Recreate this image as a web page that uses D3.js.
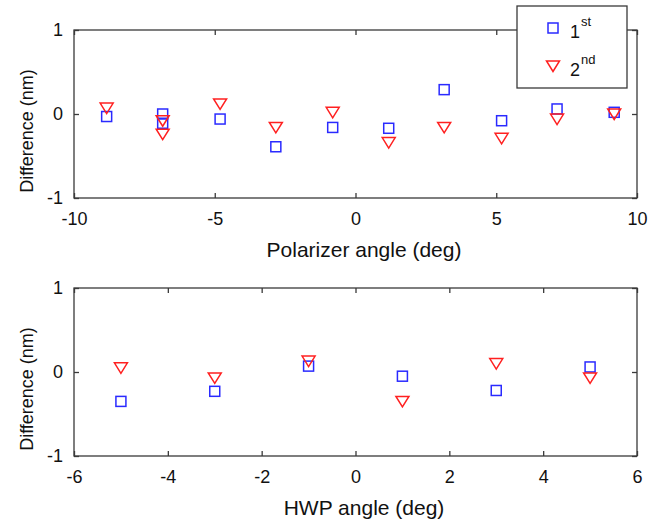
<!DOCTYPE html>
<html>
<head>
<meta charset="utf-8">
<script src="https://cdn.jsdelivr.net/npm/d3@7"></script>
<style>
  html, body { margin: 0; padding: 0; background: #fff; }
  svg { display: block; font-family: "Liberation Sans", Arial, sans-serif; }
</style>
</head>
<body>
<svg id="chart" width="664" height="524"></svg>
<script>
// Polarizer scan: angle (deg) and difference (nm) for the two runs
const polAngles     = [-8.84, -6.85, -6.85, -4.81, -2.83, -0.81, 1.18, 3.15, 5.19, 7.16, 9.19];
const polFirst      = [-0.03,  0.00, -0.11, -0.06, -0.39, -0.16, -0.17, 0.29, -0.08, 0.06, 0.02];
const polSecondAng  = [-8.84, -6.85, -6.85, -4.81, -2.83, -0.81, 1.18, 3.15, 5.19, 7.16, 9.19];
const polSecond     = [ 0.07, -0.08, -0.24,  0.12, -0.16,  0.02, -0.34, -0.16, -0.29, -0.06, 0.00];

// HWP scan
const hwpAngles     = [-5.0, -3.0, -1.0, 1.0, 3.0, 5.0];
const hwpFirst      = [-0.35, -0.23, 0.07, -0.05, -0.22, 0.06];
const hwpSecond     = [ 0.05, -0.07, 0.13, -0.35, 0.10, -0.07];

// Axis ticks and labels
const polXTicks = [-10, -5, 0, 5, 10];
const hwpXTicks = [-6, -4, -2, 0, 2, 4, 6];
const yTicks = [-1, 0, 1];
const seriesNames = [["1", "st"], ["2", "nd"]];
const yTitle = "Difference (nm)";
const polTitle = "Polarizer angle (deg)";
const hwpTitle = "HWP angle (deg)";

const BLUE = "#2a2aff";
const RED = "#ff2020";
const AXIS = "#3a3a3a";
const TEXT = "#111";

const svg = d3.select("#chart");

const triPath = "M-6.5,-5 L6.5,-5 L0,5.5 Z";
const fmt = d => String(d);

function panel(cfg) {
  const x = d3.scaleLinear().domain(cfg.xDomain).range([74, 637]);
  const y = d3.scaleLinear().domain([-1, 1]).range([cfg.bottom, cfg.top]);
  const g = svg.append("g");

  // frame
  g.append("rect")
    .attr("x", 74).attr("y", cfg.top)
    .attr("width", 637 - 74).attr("height", cfg.bottom - cfg.top)
    .attr("fill", "none").attr("stroke", AXIS).attr("stroke-width", 1.3);

  const styleAxis = sel => {
    sel.select(".domain").remove();
    sel.selectAll(".tick line").attr("stroke", AXIS).attr("stroke-width", 1.3);
    sel.selectAll(".tick text")
      .attr("fill", TEXT)
      .style("font-family", "'Liberation Sans', Arial, sans-serif")
      .style("font-size", "18px");
  };

  g.append("g").attr("transform", `translate(0,${cfg.bottom})`)
    .call(d3.axisBottom(x).tickValues(cfg.xTicks).tickFormat(fmt)
      .tickSizeInner(-5).tickSizeOuter(0).tickPadding(14))
    .call(styleAxis);
  g.append("g").attr("transform", `translate(0,${cfg.top})`)
    .call(d3.axisTop(x).tickValues(cfg.xTicks).tickFormat("")
      .tickSizeInner(-5).tickSizeOuter(0))
    .call(styleAxis);
  g.append("g").attr("transform", "translate(74,0)")
    .call(d3.axisLeft(y).tickValues(yTicks).tickFormat(fmt)
      .tickSizeInner(-5).tickSizeOuter(0).tickPadding(11))
    .call(styleAxis);
  g.append("g").attr("transform", "translate(637,0)")
    .call(d3.axisRight(y).tickValues(yTicks).tickFormat("")
      .tickSizeInner(-5).tickSizeOuter(0))
    .call(styleAxis);

  // y title
  const yc = (cfg.top + cfg.bottom) / 2 + 17;
  g.append("text")
    .attr("transform", `translate(33,${yc}) rotate(-90)`)
    .attr("text-anchor", "middle")
    .attr("fill", TEXT).style("font-size", "18px")
    .text(yTitle);

  // x title
  g.append("text")
    .attr("x", 364).attr("y", cfg.bottom + 59)
    .attr("text-anchor", "middle")
    .attr("fill", TEXT).style("font-size", "21px")
    .text(cfg.xTitle);

  // first run: squares
  g.append("g").selectAll("rect")
    .data(d3.zip(cfg.xs1, cfg.ys1))
    .join("rect")
    .attr("x", d => x(d[0]) - 5).attr("y", d => y(d[1]) - 5)
    .attr("width", 10).attr("height", 10)
    .attr("fill", "none").attr("stroke", BLUE).attr("stroke-width", 1.5);

  // second run: downward triangles
  g.append("g").selectAll("path")
    .data(d3.zip(cfg.xs2, cfg.ys2))
    .join("path")
    .attr("d", triPath)
    .attr("transform", d => `translate(${x(d[0])},${y(d[1])})`)
    .attr("fill", "none").attr("stroke", RED).attr("stroke-width", 1.5);
}

panel({
  xDomain: [-10, 10], xTicks: polXTicks, top: 30, bottom: 198, xTitle: polTitle,
  xs1: polAngles, ys1: polFirst, xs2: polSecondAng, ys2: polSecond
});
panel({
  xDomain: [-6, 6], xTicks: hwpXTicks, top: 288, bottom: 456, xTitle: hwpTitle,
  xs1: hwpAngles, ys1: hwpFirst, xs2: hwpAngles, ys2: hwpSecond
});

// legend
const leg = svg.append("g");
leg.append("rect")
  .attr("x", 517).attr("y", 6).attr("width", 110).attr("height", 82)
  .attr("fill", "#fff").attr("stroke", AXIS).attr("stroke-width", 1.3);

const rows = [28, 66];
leg.append("rect")
  .attr("x", 553 - 5).attr("y", rows[0] - 5).attr("width", 10).attr("height", 10)
  .attr("fill", "none").attr("stroke", BLUE).attr("stroke-width", 1.5);
leg.append("path")
  .attr("d", triPath)
  .attr("transform", `translate(553,${rows[1]})`)
  .attr("fill", "none").attr("stroke", RED).attr("stroke-width", 1.5);

seriesNames.forEach((n, i) => {
  const t = leg.append("text")
    .attr("x", 570).attr("y", rows[i] + 10)
    .attr("fill", TEXT).style("font-size", "18px");
  t.append("tspan").text(n[0]);
  t.append("tspan").attr("dy", -12).attr("dx", 1).style("font-size", "13px").text(n[1]);
});
</script>
</body>
</html>
